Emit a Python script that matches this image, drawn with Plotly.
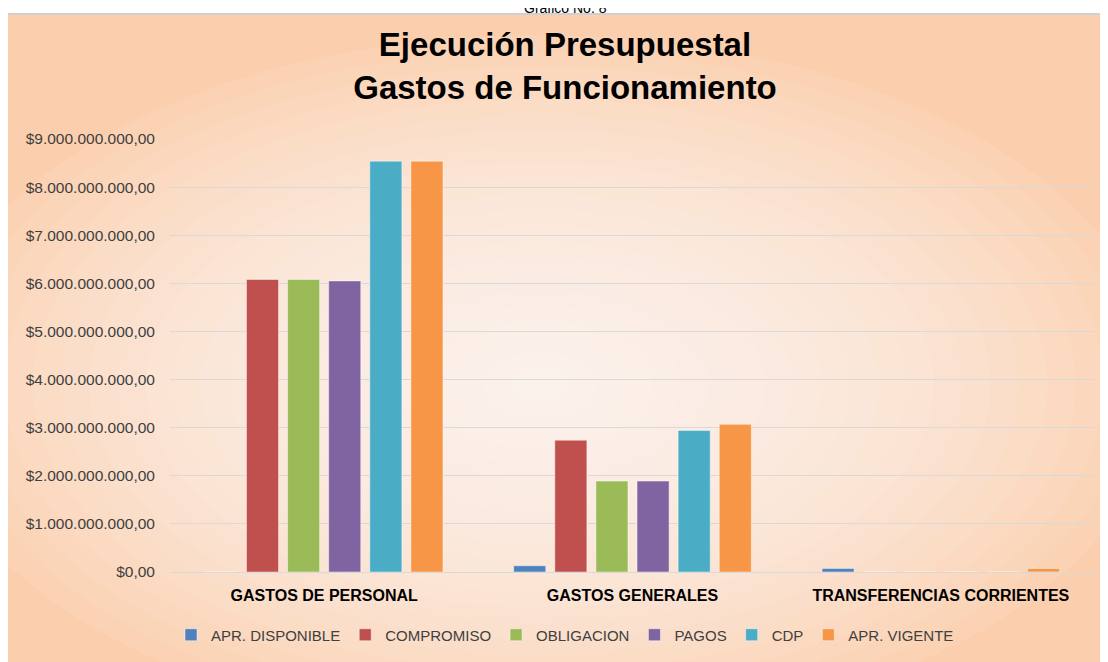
import plotly.graph_objects as go

# ─── 数据 ───
categorias = ['GASTOS DE PERSONAL', 'GASTOS GENERALES', 'TRANSFERENCIAS CORRIENTES']
apr_disponible = [0.0, 0.13e9, 0.075e9]
compromiso = [6.08e9, 2.74e9, 0.0]
obligacion = [6.08e9, 1.89e9, 0.0]
pagos = [6.05e9, 1.89e9, 0.0]
cdp = [8.54e9, 2.94e9, 0.0]
apr_vigente = [8.54e9, 3.07e9, 0.075e9]

series = [
    ('APR. DISPONIBLE', apr_disponible, '#4F81BD'),
    ('COMPROMISO', compromiso, '#C0504D'),
    ('OBLIGACION', obligacion, '#9BBB59'),
    ('PAGOS', pagos, '#8064A2'),
    ('CDP', cdp, '#4BACC6'),
    ('APR. VIGENTE', apr_vigente, '#F79646'),
]

FONT = 'Liberation Sans Narrow, Arial Narrow, Liberation Sans, Arial, sans-serif'
# la página tiene 8 px de margen en el body
W, H = 1100, 654
L, R, T, B = 162, 13, 131, 90
PW, PH = W - L - R, H - T - B


def px(x):
    return (x - L) / PW


def py(y):
    return (H - B - y) / PH


fig = go.Figure()
for name, vals, color in series:
    fig.add_trace(go.Bar(
        x=categorias, y=vals, name=name,
        marker=dict(color=color, line=dict(color='rgba(255,255,255,0.45)', width=1)),
    ))

# ─── fondo: degradado radial melocotón ───
shapes = [dict(type='rect', xref='paper', yref='paper', layer='below',
               x0=px(-2), x1=px(1093), y0=py(6), y1=py(700),
               fillcolor='#FBCFAD', line=dict(color='#D0D0D0', width=2))]
cx, cy = 532, 377
n = 22
for i in range(n):
    f = 1 - i / n
    rx, ry = 620 * f, 350 * f
    shapes.append(dict(type='circle', xref='paper', yref='paper', layer='below',
                       x0=px(cx - rx), x1=px(cx + rx), y0=py(cy - ry), y1=py(cy + ry),
                       fillcolor='rgba(255,255,255,0.075)', line=dict(width=0)))

fig.update_layout(
    width=W, height=H,
    margin=dict(l=L, r=R, t=T, b=B, autoexpand=False),
    paper_bgcolor='white',
    plot_bgcolor='rgba(0,0,0,0)',
    separators=',.',
    shapes=shapes,
    barmode='group',
    bargap=0.2,
    bargroupgap=0.22,
    title=dict(
        text='<b>Ejecución Presupuestal<br>Gastos de Funcionamiento</b>',
        xref='container', yref='container',
        x=557 / W, y=1 - 48 / H, xanchor='center', yanchor='top',
        font=dict(family=FONT, size=33, color='black'),
    ),
    font=dict(family=FONT, color='#404040'),
    xaxis=dict(
        tickfont=dict(family=FONT, size=16, color='black', weight='bold'),
        showgrid=False, showline=False, ticks='', automargin=False,
        ticklabelstandoff=12,
    ),
    yaxis=dict(
        range=[0, 9e9], dtick=1e9, tickformat='$,.2f',
        tickfont=dict(family=FONT, size=15.5, color='#404040'),
        gridcolor='#D9D9D9', gridwidth=1,
        zeroline=True, zerolinecolor='#D9D9D9', zerolinewidth=1,
        ticks='', ticklabelstandoff=14, automargin=False,
    ),
    legend=dict(
        orientation='h', x=px(557), y=py(627), xanchor='center', yanchor='middle',
        font=dict(family=FONT, size=15, color='#404040'),
        bgcolor='rgba(0,0,0,0)', itemwidth=30,
    ),
    annotations=[dict(
        text='Gráfico No. 8', xref='paper', yref='paper',
        x=px(557), y=py(0), xanchor='center', yanchor='middle',
        showarrow=False, font=dict(family=FONT, size=14, color='black'),
    )],
)

fig.write_html('out.html')
